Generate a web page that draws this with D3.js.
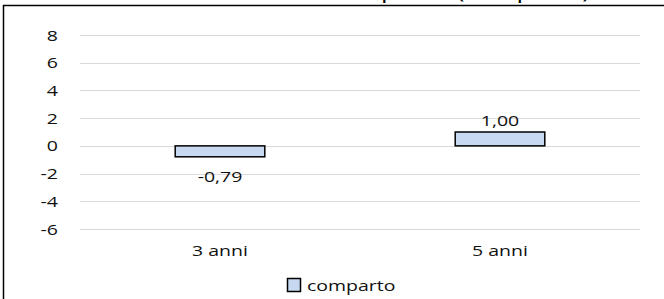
<!DOCTYPE html>
<html>
<head>
<meta charset="utf-8">
<script src="https://cdn.jsdelivr.net/npm/d3@7"></script>
<style>
  body { margin: 0; background: #fff; }
  svg { display: block; font-family: "Open Sans", sans-serif; }
</style>
</head>
<body>
<svg id="chart" width="664" height="299"></svg>
<script>
// data
const categories = ["3 anni", "5 anni"];
const comparto = [-0.79, 1.00];
const yTicks = [-6, -4, -2, 0, 2, 4, 6, 8];
const seriesName = "comparto";
const title = "Rendimento medio annuo composto (comparto)";

const svg = d3.select("#chart");
const width = 664, height = 299;
const sx = 1.3; // text in the reference is drawn wide

// places a horizontally stretched text
function label(g, px, py, anchor) {
  return g.attr("transform", `translate(${px},${py}) scale(${sx},1)`).attr("text-anchor", anchor);
}

// outer frame (runs off the right and bottom edges)
svg.append("rect")
  .attr("x", 3.5).attr("y", 5.5)
  .attr("width", width + 10).attr("height", height + 10)
  .attr("fill", "#fff").attr("stroke", "#000").attr("stroke-width", 1.5);

// title, mostly cut off above the frame
label(svg.append("text"), 590, -2.5, "end")
  .attr("font-size", 20)
  .text(title);

const x = d3.scaleBand().domain(categories).range([80, 640]).paddingInner(0.68).paddingOuter(0.34);
const y = d3.scaleLinear().domain([-6, 8]).range([229, 35]);

// gridlines
svg.append("g").selectAll("line").data(yTicks).join("line")
  .attr("x1", 80).attr("x2", 640)
  .attr("y1", d => Math.round(y(d)) + 0.5).attr("y2", d => Math.round(y(d)) + 0.5)
  .attr("stroke", "#d9d9d9").attr("stroke-width", 1);

// y tick labels
svg.append("g").selectAll("text").data(yTicks).join("text")
  .each(function(d) { label(d3.select(this), 58, y(d) + 5.5, "end"); })
  .attr("font-size", 15)
  .attr("fill", "#111")
  .text(d => d);

// bars
svg.append("g").selectAll("rect").data(comparto).join("rect")
  .attr("x", (d, i) => x(categories[i]))
  .attr("width", x.bandwidth())
  .attr("y", d => y(Math.max(0, d)))
  .attr("height", d => Math.abs(y(d) - y(0)))
  .attr("fill", "#c6d9f1")
  .attr("stroke", "#000").attr("stroke-width", 1.5);

// value labels
svg.append("g").selectAll("text").data(comparto).join("text")
  .each(function(d, i) {
    label(d3.select(this), x(categories[i]) + x.bandwidth() / 2, d >= 0 ? y(d) - 6 : y(d) + 25, "middle");
  })
  .attr("font-size", 15)
  .attr("fill", "#111")
  .text(d => d3.format(".2f")(d).replace(".", ",").replace("−", "-"));

// category labels
svg.append("g").selectAll("text").data(categories).join("text")
  .each(function(d) { label(d3.select(this), x(d) + x.bandwidth() / 2, 256, "middle"); })
  .attr("font-size", 15)
  .attr("fill", "#111")
  .text(d => d);

// legend
const lg = svg.append("g").attr("transform", "translate(287,278)");
lg.append("rect").attr("x", 0.5).attr("y", 0.5).attr("width", 13).attr("height", 13)
  .attr("fill", "#c6d9f1").attr("stroke", "#000").attr("stroke-width", 1.5);
label(lg.append("text"), 20, 13, "start")
  .attr("font-size", 15).attr("fill", "#111").text(seriesName);
</script>
</body>
</html>
